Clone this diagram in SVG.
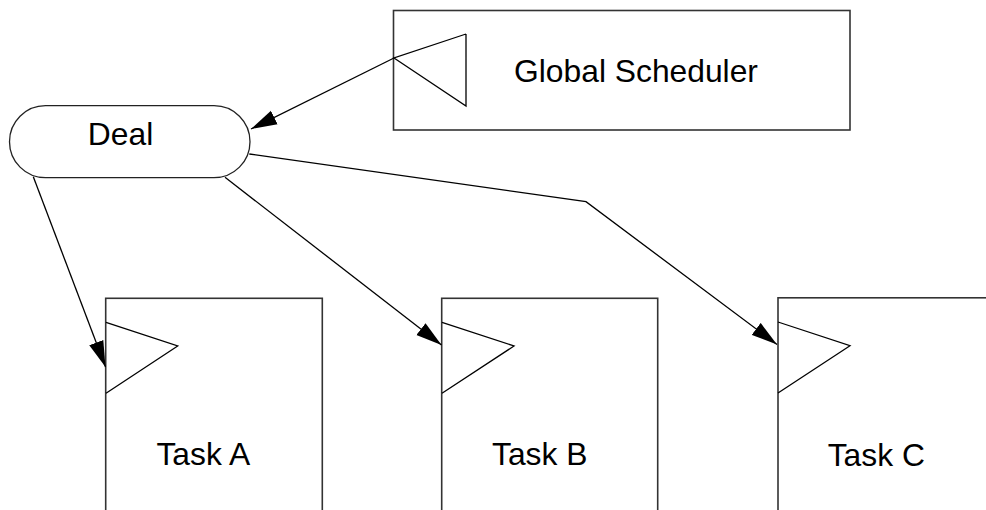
<svg xmlns="http://www.w3.org/2000/svg" width="986" height="510" viewBox="0 0 986 510">
  <defs>
    <marker id="arrow" markerUnits="userSpaceOnUse" markerWidth="28" markerHeight="16" refX="26" refY="8" orient="auto">
      <path d="M0,0.5 L26,8 L0,15.5 Z" fill="#000"/>
    </marker>
  </defs>
  <style>
    .box { fill: #fff; stroke: #333; stroke-width: 1.6; }
    .port { fill: none; stroke: #000; stroke-width: 1.3; stroke-linejoin: miter; }
    .lbl { font-family: "Liberation Sans", Arial, sans-serif; font-size: 31.8px; fill: #000; text-anchor: middle; }
    .edge { fill: none; stroke: #000; stroke-width: 1.3; }
  </style>
  <rect width="986" height="510" fill="#fff"/>
  <g id="global-scheduler">
    <rect class="box" x="393.5" y="10.5" width="456.5" height="119.5"/>
    <polyline class="port" points="466,34 394,58 466,106 466,34"/>
    <text class="lbl" x="636" y="81.5">Global Scheduler</text>
  </g>
  <g id="deal">
    <rect class="box" x="9.5" y="105.7" width="240.5" height="72" rx="36" ry="36" style="stroke:#222;stroke-width:1.3"/>
    <text class="lbl" x="120.5" y="145">Deal</text>
  </g>
  <g id="task-a">
    <rect class="box" x="105.7" y="298.3" width="216.6" height="230"/>
    <polyline class="port" points="106,322.3 177.7,346 106,393.3"/>
    <text class="lbl" x="203.3" y="465">Task A</text>
  </g>
  <g id="task-b">
    <rect class="box" x="441.7" y="298.3" width="216" height="230"/>
    <polyline class="port" points="442,322.3 514,346 442,393.3"/>
    <text class="lbl" x="539.7" y="465">Task B</text>
  </g>
  <g id="task-c">
    <rect class="box" x="778" y="297.8" width="216" height="230"/>
    <polyline class="port" points="778,322 850,345.7 778,393"/>
    <text class="lbl" x="876.3" y="465.5">Task C</text>
  </g>
  <g id="connectors">
    <path class="edge" d="M394,58 L251,129" marker-end="url(#arrow)"/>
    <path class="edge" d="M249.3,154 L586,201.7 L777,344.5" marker-end="url(#arrow)"/>
    <path class="edge" d="M225,177.3 L441.5,345" marker-end="url(#arrow)"/>
    <path class="edge" d="M33.3,176.7 L105.5,367" marker-end="url(#arrow)"/>
  </g>
</svg>
